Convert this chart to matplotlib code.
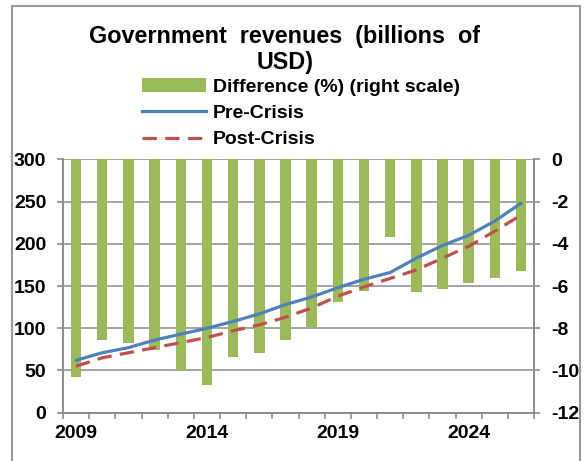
import numpy as np
import matplotlib
matplotlib.use("Agg")
import matplotlib.pyplot as plt
from matplotlib.patches import Patch, Rectangle
from matplotlib.lines import Line2D

plt.rcParams["font.family"] = ["Liberation Sans", "DejaVu Sans"]
plt.rcParams["font.weight"] = "bold"
plt.rcParams["axes.unicode_minus"] = False

years = list(range(2009, 2027))
difference = [-10.3, -8.55, -8.7, -9.05, -10.0, -10.7, -9.35, -9.15, -8.55,
              -7.95, -6.75, -6.25, -3.7, -6.3, -6.15, -5.85, -5.6, -5.3]
pre_crisis = [62, 71, 77, 86, 93, 100, 108, 117, 128,
              137, 148, 158, 166, 183, 198, 210, 227, 248]
post_crisis = [55, 65, 71, 77, 83, 89, 97, 104, 113,
               124, 138, 149, 159, 169, 183, 197, 215, 234]
label_years = [2009, 2014, 2019, 2024]

green = "#9BBB59"
blue = "#4F81BD"
red = "#C0504D"
grey = "#8C8C8C"

fig = plt.figure(figsize=(5.86, 4.61), dpi=100)
# chart area border
fig.add_artist(Rectangle((12 / 586, -0.02), 568 / 586, 1 - 6 / 461 + 0.02,
                         transform=fig.transFigure, fill=False,
                         edgecolor="#999999", lw=1.5))

ax = fig.add_axes([0.1075, 0.1048, 0.804, 0.5496])
ax2 = ax.twinx()
ax.set_zorder(ax2.get_zorder() + 1)
ax.patch.set_visible(False)

x = np.arange(len(years)) + 0.5

# bars on the right scale, hanging from 0
ax2.bar(x, difference, width=0.4, color=green, zorder=2)
ax2.set_ylim(-12, 0)
ax2.set_yticks(np.arange(-12, 1, 2))
ax2.grid(axis="y", color=grey, lw=1.1)
ax2.set_axisbelow(True)

# lines on the left scale
ax.plot(x, pre_crisis, color=blue, lw=2.3, solid_capstyle="round")
ax.plot(x, post_crisis, color=red, lw=2.3, dashes=(4.5, 2.6))
ax.set_ylim(0, 300)
ax.set_yticks(np.arange(0, 301, 50))
ax.set_xlim(0, len(years))

# category boundary ticks, labels every five years
ax.set_xticks(np.arange(0, len(years) + 1))
ax.set_xticklabels([])
ax.set_xticks([years.index(y) + 0.5 for y in label_years], minor=True)
ax.set_xticklabels([str(y) for y in label_years], minor=True)
ax.tick_params(axis="x", which="major", length=4, width=1.2, color=grey, direction="out")
ax.tick_params(axis="x", which="minor", length=0, pad=9, labelsize=14)

ax.tick_params(axis="y", length=4, width=1.2, color=grey, pad=8, labelsize=14)
ax2.tick_params(axis="y", length=4, width=1.2, color=grey, pad=8, labelsize=14)

for a in (ax, ax2):
    for s in a.spines.values():
        s.set_color(grey)
        s.set_linewidth(1.2)
    a.spines["top"].set_visible(False)

fig.text(0.486, 1 - 37 / 461, "Government  revenues  (billions  of",
         ha="center", va="center", fontsize=16.8, fontweight="bold")
fig.text(0.486, 1 - 63 / 461, "USD)",
         ha="center", va="center", fontsize=16.8, fontweight="bold")

handles = [Patch(facecolor=green, edgecolor="none"),
           Line2D([], [], color=blue, lw=2.3),
           Line2D([], [], color=red, lw=2.3, dashes=(4.5, 2.6))]
labels = ["Difference (%) (right scale)", "Pre-Crisis", "Post-Crisis"]
fig.legend(handles, labels, loc="upper left",
           bbox_to_anchor=(142 / 586, 1 - 78 / 461), frameon=False,
           fontsize=14, handlelength=3.3, handleheight=0.7,
           handletextpad=0.35, labelspacing=0.45, borderpad=0, borderaxespad=0)

fig.savefig("out.png", dpi=100)
